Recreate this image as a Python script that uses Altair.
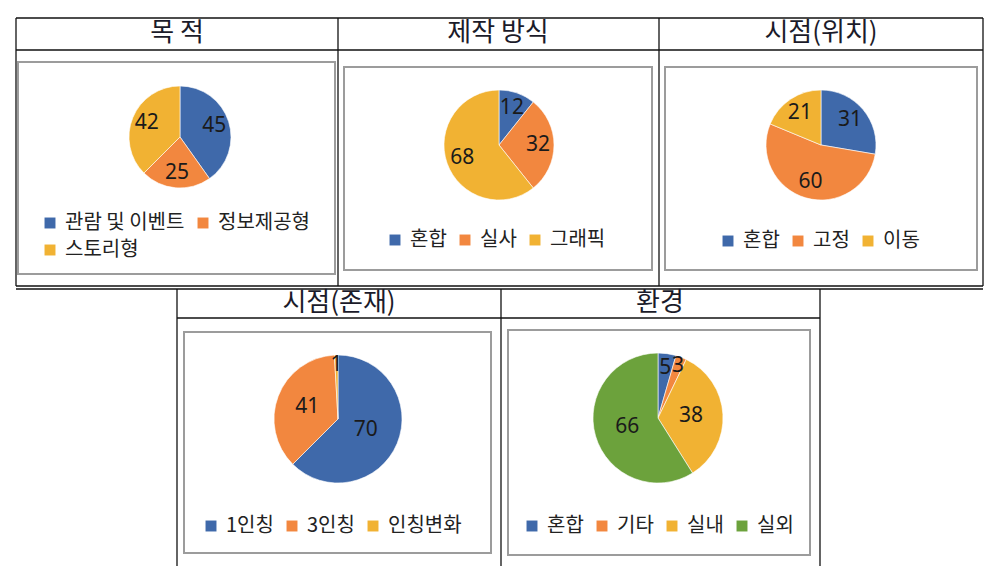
import altair as alt
import pandas as pd

# ---------------- data ----------------
titles = ["목 적", "제작 방식", "시점(위치)", "시점(존재)", "환경"]

cats1 = ["관람 및 이벤트", "정보제공형", "스토리형"]
vals1 = [45, 25, 42]
cats2 = ["혼합", "실사", "그래픽"]
vals2 = [12, 32, 68]
cats3 = ["혼합", "고정", "이동"]
vals3 = [31, 60, 21]
cats4 = ["1인칭", "3인칭", "인칭변화"]
vals4 = [70, 41, 1]
cats5 = ["혼합", "기타", "실내", "실외"]
vals5 = [5, 3, 38, 66]

# ---------------- styles ----------------
BLUE, ORANGE, GOLD, GREEN = "#3F69AA", "#F2873F", "#F1B233", "#6CA23C"
pal3 = [BLUE, ORANGE, GOLD]
pal4 = [BLUE, ORANGE, GOLD, GREEN]

# label distance from the pie centre (px), per slice (Excel "best fit" varies)
label_r1 = [36, 36, 36]
label_r2 = [39, 39, 39]
label_r3 = [38, 38, 38]
label_r4 = [30, 33, 54]
label_r5 = [51, 56, 33, 32]

KFONT = "Noto Sans CJK KR"
NFONT = "Noto Sans"
LINE = "#111111"
one = alt.Data(values=[{}])


def hline(x1, x2, y, color=LINE, w=1.3):
    return alt.Chart(one).mark_rule(color=color, strokeWidth=w).encode(
        x=alt.value(x1), x2=alt.value(x2), y=alt.value(y))


def vline(x, y1, y2, color=LINE, w=1.3):
    return alt.Chart(one).mark_rule(color=color, strokeWidth=w).encode(
        x=alt.value(x), y=alt.value(y1), y2=alt.value(y2))


def box(x1, x2, y1, y2):
    return alt.Chart(one).mark_rect(fill="#FFFFFF", stroke="#9C9C9C", strokeWidth=2).encode(
        x=alt.value(x1), x2=alt.value(x2), y=alt.value(y1), y2=alt.value(y2))


def title(txt, x, y):
    return alt.Chart(one).mark_text(font=KFONT, fontSize=26, color="#1B1B2A",
                                    baseline="middle", align="center").encode(
        x=alt.value(x), y=alt.value(y), text=alt.value(txt))


def pie(cats, vals, colors, cx, cy, r, lr, lx, ly, cols, colpad):
    df = pd.DataFrame({"cat": cats, "val": vals, "ord": list(range(len(cats))), "lr": lr})
    arc = alt.Chart(df).mark_arc(radius=r, stroke="#FFFFFF", strokeWidth=0.6).encode(
        theta=alt.Theta("val:Q", stack=True),
        order=alt.Order("ord:Q"),
        x=alt.value(cx), y=alt.value(cy),
        color=alt.Color(
            "cat:N", sort=cats,
            scale=alt.Scale(domain=cats, range=colors),
            legend=alt.Legend(
                title=None, orient="none", legendX=lx, legendY=ly,
                direction="horizontal", columns=cols, columnPadding=colpad,
                rowPadding=7, symbolType="square", symbolSize=120,
                symbolStrokeWidth=0, labelFont=KFONT, labelFontSize=20,
                labelColor="#222222", labelOffset=5, padding=0, labelLimit=300,
            ),
        ),
    )
    text = alt.Chart(df).transform_joinaggregate(
        total="sum(val)"
    ).transform_window(
        cum="sum(val)", sort=[alt.SortField("ord")], frame=[None, 0]
    ).transform_calculate(
        mid="(datum.cum - datum.val / 2) / datum.total * 2 * PI"
    ).mark_text(font=NFONT, fontSize=21, color="#1A1A1A",
                baseline="middle", align="center").encode(
        theta=alt.Theta("mid:Q", scale=None, stack=False),
        radius=alt.Radius("lr:Q", scale=None),
        x=alt.value(cx), y=alt.value(cy),
        text="val:Q",
    )
    return alt.layer(arc, text)


layers = []
# gray inner chart boxes
layers += [
    box(10, 327, 54, 266),
    box(336, 644, 59, 262),
    box(657, 969, 59, 262),
    box(176, 483, 324, 545),
    box(500, 802, 322, 547),
]
# table lines
layers += [
    hline(8, 975, 10), hline(8, 975, 42), hline(8, 975, 278),
    vline(8, 10, 278), vline(975, 10, 278), vline(330, 10, 278), vline(651, 10, 278),
    hline(8, 975, 281),
    hline(169, 812, 310), hline(169, 812, 559),
    vline(169, 281, 559), vline(812, 281, 559), vline(493, 281, 559),
]
# titles
layers += [
    title(titles[0], 169, 25),
    title(titles[1], 490, 25),
    title(titles[2], 813, 25),
    title(titles[3], 331, 295),
    title(titles[4], 652, 295),
]
# pies
layers += [
    pie(cats1, vals1, pal3, 172, 129, 51, label_r1, 32, 205, 2, 8),
    pie(cats2, vals2, pal3, 491, 137, 55, label_r2, 377, 222, 3, 8),
    pie(cats3, vals3, pal3, 813, 137, 55, label_r3, 710, 223, 3, 8),
    pie(cats4, vals4, pal3, 330, 411, 64, label_r4, 193, 508, 3, 8),
    pie(cats5, vals5, pal4, 650, 410, 65, label_r5, 514, 508, 4, 8),
]

chart = alt.layer(*layers).resolve_scale(
    color="independent", theta="independent", radius="independent"
).properties(
    width=979, height=558, autosize=alt.AutoSizeParams(type="none"), padding=0,
    background="#FFFFFF",
).configure_view(stroke=None)

chart.save("out.html", embed_options={"renderer": "svg", "actions": False})
